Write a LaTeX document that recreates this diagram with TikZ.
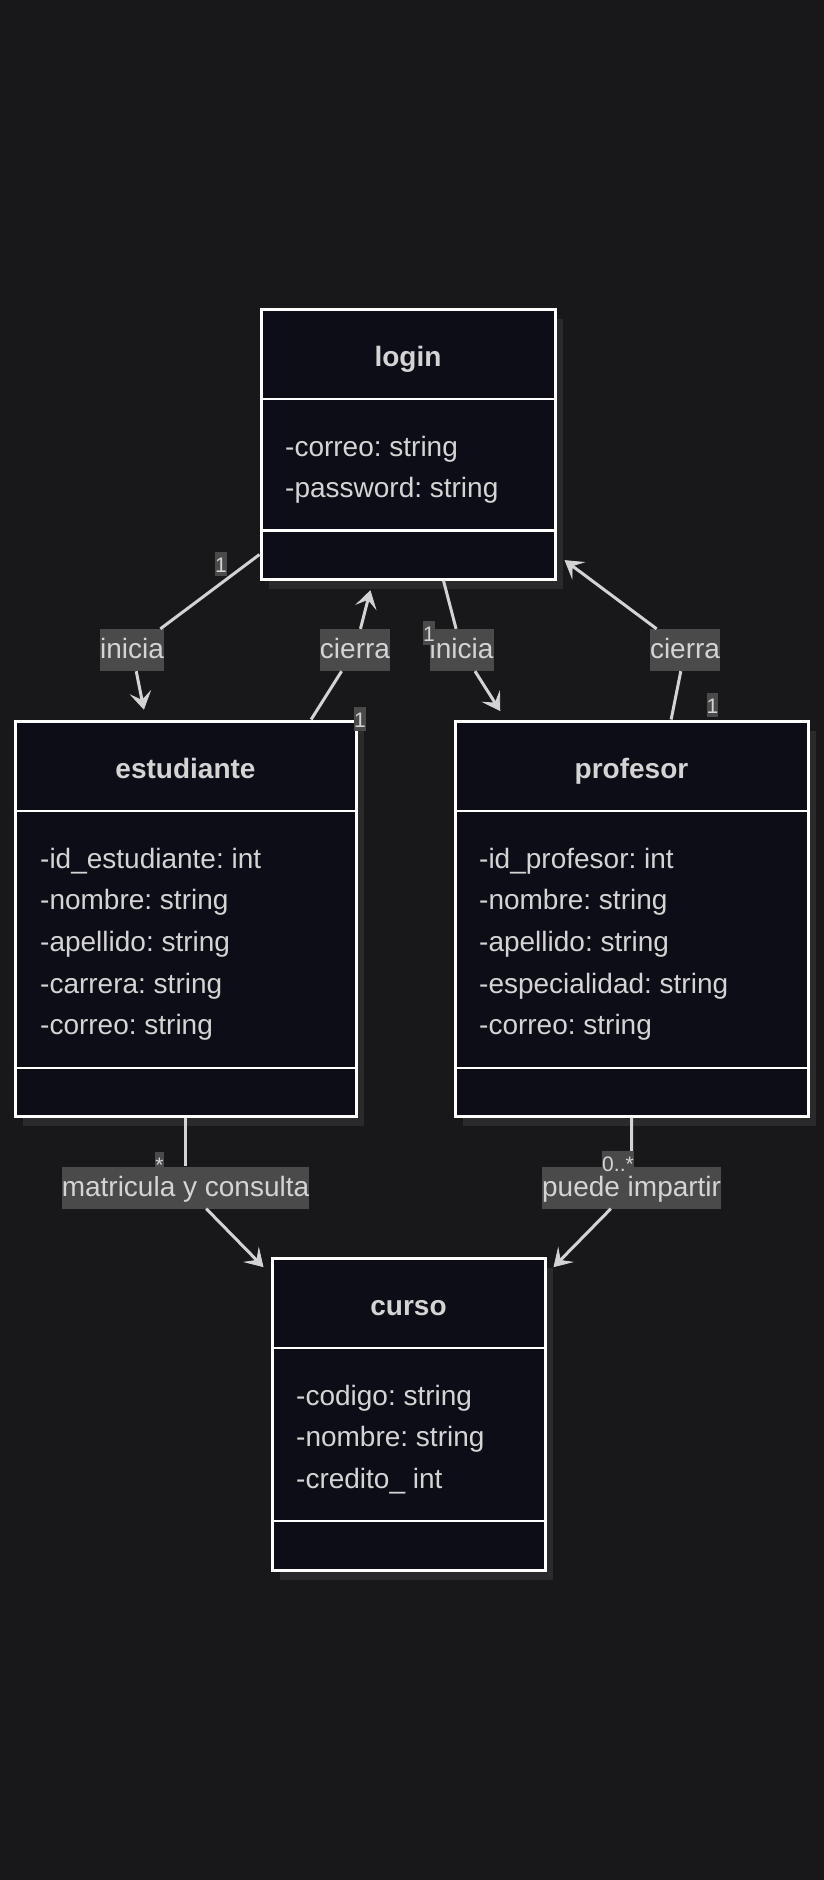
\documentclass[tikz,border=0pt]{standalone}
\usepackage{fontspec}
\setmainfont{Liberation Sans}
\usetikzlibrary{arrows.meta,shadows}
\definecolor{bgcol}{RGB}{24,24,27}
\definecolor{boxfill}{RGB}{12,13,22}
\definecolor{shadowgray}{RGB}{42,42,44}
\definecolor{txtgray}{RGB}{212,212,212}
\definecolor{linegray}{RGB}{211,211,211}
\definecolor{lblgray}{RGB}{74,74,74}
\frenchspacing

\begin{document}
\begin{tikzpicture}[x=1pt, y=-1pt, >={Stealth[length=18pt,width=22pt,inset=8pt,line width=0.8pt]},
	classbox/.style={draw=white, line width=3pt, fill=boxfill, inner sep=0pt,
		drop shadow={shadow xshift=8pt, shadow yshift=-10pt, fill=shadowgray, opacity=1}},
	divline/.style={draw=white, line width=2.5pt},
	ctitle/.style={anchor=base, text=txtgray, inner sep=0pt, font=\bfseries\fontsize{28}{34}\selectfont},
	attr/.style={anchor=base west, text=txtgray, inner sep=0pt, font=\fontsize{28}{34}\selectfont},
	edge/.style={draw=linegray, line width=3pt},
	elabel/.style={fill=lblgray, text=txtgray, inner xsep=0pt, inner ysep=0pt, text height=21.5pt, text depth=4.5pt, minimum height=42pt, font=\fontsize{28}{34}\selectfont},
	mult/.style={fill=lblgray, text=txtgray, inner sep=0pt, text height=20.5pt, text depth=3.5pt, font=\fontsize{21}{24}\selectfont}]
	\useasboundingbox (0,0) rectangle (824,1880);
	\fill[bgcol] (0,0) rectangle (824,1880);
	% clases
	\node[classbox, minimum width=294pt, minimum height=270pt] (login) at (408,444) {};
	\node[classbox, minimum width=341pt, minimum height=395pt] (estudiante) at (185.5,918.5) {};
	\node[classbox, minimum width=353pt, minimum height=395pt] (profesor) at (631.5,918.5) {};
	\node[classbox, minimum width=273pt, minimum height=312pt] (curso) at (408.5,1414) {};
	\draw[divline] (261,399) -- (555,399);
	\draw[divline] (261,530.5) -- (555,530.5);
	\draw[divline] (15,811) -- (356,811);
	\draw[divline] (15,1068) -- (356,1068);
	\draw[divline] (455,811) -- (808,811);
	\draw[divline] (455,1068) -- (808,1068);
	\draw[divline] (272,1348) -- (545,1348);
	\draw[divline] (272,1521) -- (545,1521);
	\node[ctitle] (loginT) at (408,366) {login};
	\node[ctitle] (estudianteT) at (185.5,778) {estudiante};
	\node[ctitle] (profesorT) at (631.5,778) {profesor};
	\node[ctitle] (cursoT) at (408.5,1315) {curso};
	\foreach \txt [count=\i] in {-correo: string,-password: string}
		\node[attr] (loginA\i) at (285,{456+41.7*(\i-1)}) {\txt};
	\foreach \txt [count=\i] in {-id\_estudiante: int,-nombre: string,-apellido: string,-carrera: string,-correo: string}
		\node[attr] (estudianteA\i) at (40,{868+41.7*(\i-1)}) {\txt};
	\foreach \txt [count=\i] in {-id\_profesor: int,-nombre: string,-apellido: string,-especialidad: string,-correo: string}
		\node[attr] (profesorA\i) at (479,{868+41.7*(\i-1)}) {\txt};
	\foreach \txt [count=\i] in {-codigo: string,-nombre: string,-credito\_ int}
		\node[attr] (cursoA\i) at (296,{1405+41.7*(\i-1)}) {\txt};
	% relaciones
	\node[elabel] (iniciaE) at (132,650) {inicia};
	\node[elabel] (cierraE) at (355,650) {cierra};
	\node[elabel] (iniciaP) at (461.6,650) {inicia};
	\node[elabel] (cierraP) at (685,650) {cierra};
	\node[elabel] (matricula) at (185.5,1187.5) {matricula y consulta};
	\node[elabel] (imparte) at (631.6,1187.5) {puede impartir};
	\draw[edge] (login) -- (iniciaE);
	\draw[edge, ->, shorten >=10pt] (iniciaE) -- (estudiante);
	\draw[edge] (estudiante) -- (cierraE);
	\draw[edge, ->, shorten >=10pt] (cierraE) -- (login);
	\draw[edge] (login) -- (iniciaP);
	\draw[edge, ->, shorten >=10pt] (iniciaP) -- (profesor);
	\draw[edge] (profesor) -- (cierraP);
	\draw[edge, ->, shorten >=10pt] (cierraP) -- (login);
	\draw[edge] (estudiante) -- (matricula);
	\draw[edge, ->, shorten >=10pt] (matricula) -- (curso);
	\draw[edge] (profesor) -- (imparte);
	\draw[edge, ->, shorten >=10pt] (imparte) -- (curso);
	% multiplicidades
	\node[mult] (mLoginE) at (221,563.5) {1};
	\node[mult] (mEst) at (360,719) {1};
	\node[mult] (mLoginP) at (429,632.5) {1};
	\node[mult] (mProf) at (712.5,705) {1};
	\node[mult] (mEstC) at (159.5,1163.7) {*};
	\node[mult] (mProfC) at (618,1163) {0..*};
\end{tikzpicture}
\end{document}
